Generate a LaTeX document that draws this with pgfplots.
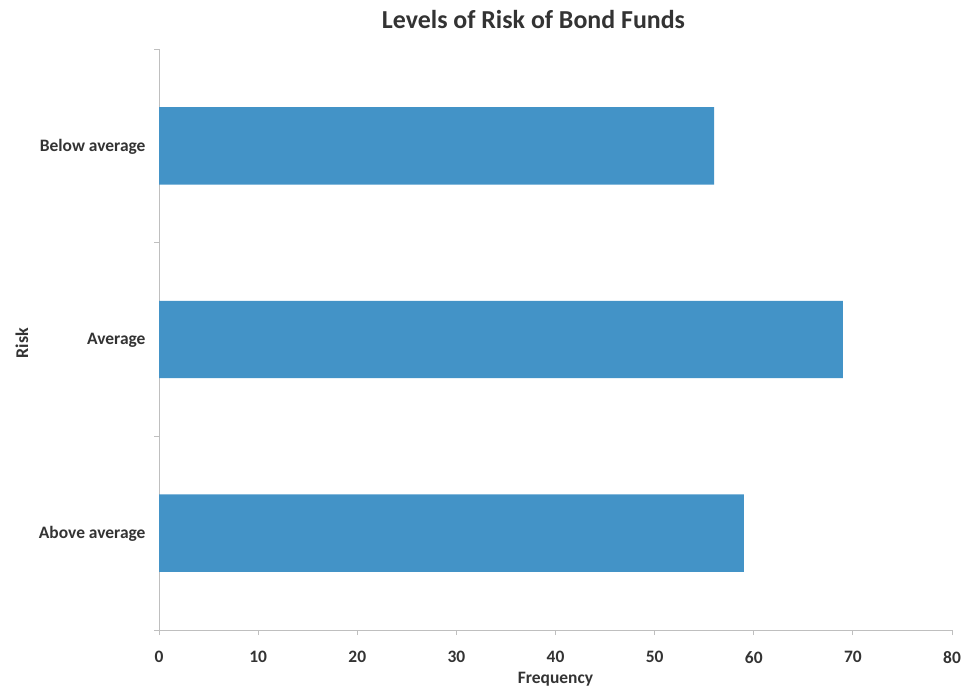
\documentclass[border=0pt]{standalone}
\usepackage{pgfplots}
\pgfplotsset{compat=1.18}
\usepackage{fontspec}
\setmainfont{Carlito}
\definecolor{barblue}{HTML}{4393C7}
\definecolor{axgray}{HTML}{BFBFBF}
\definecolor{txt}{HTML}{333333}
\begin{document}
\begin{tikzpicture}
\path[use as bounding box] (0,0) rectangle (976bp,690bp);
\begin{axis}[
  at={(159bp,60bp)}, anchor=south west,
  scale only axis, width=793bp, height=581bp,
  xbar, bar width=0.4,
  xmin=0, xmax=80, ymin=-0.5, ymax=2.5,
  xtick={0,10,...,80},
  ytick={-0.5,0.5,1.5,2.5}, yticklabels={},
  extra y ticks={0,1,2},
  extra y tick labels={Above average,Average,Below average},
  extra y tick style={tick style={draw=none}},
  axis lines*=left,
  axis line style={axgray, line width=0.8bp},
  tick style={axgray, line width=0.8bp},
  tick align=outside, major tick length=5bp,
  /pgf/number format/assume math mode=true,
  tick label style={font=\fontsize{17.5}{20}\selectfont\bfseries, text=txt},
  xticklabel style={yshift=-13bp},
  yticklabel style={xshift=-5bp, yshift=-1bp},
  xlabel={Frequency},
  xlabel style={at={(axis description cs:0.5,0)}, anchor=center, yshift=-49bp, font=\fontsize{17.5}{20}\selectfont\bfseries, text=txt},
  title={Levels of Risk of Bond Funds},
  title style={at={(axis description cs:0.5,1)}, anchor=center, yshift=24bp, xshift=-22bp, font=\fontsize{26}{30}\selectfont\bfseries, text=txt},
]
\addplot[fill=barblue, draw=none] coordinates {(59,0) (69,1) (56,2)};
\end{axis}
\node[rotate=90, anchor=center, font=\fontsize{18}{20}\selectfont\bfseries, text=txt] at (22bp,347bp) {Risk};
\end{tikzpicture}
\end{document}
